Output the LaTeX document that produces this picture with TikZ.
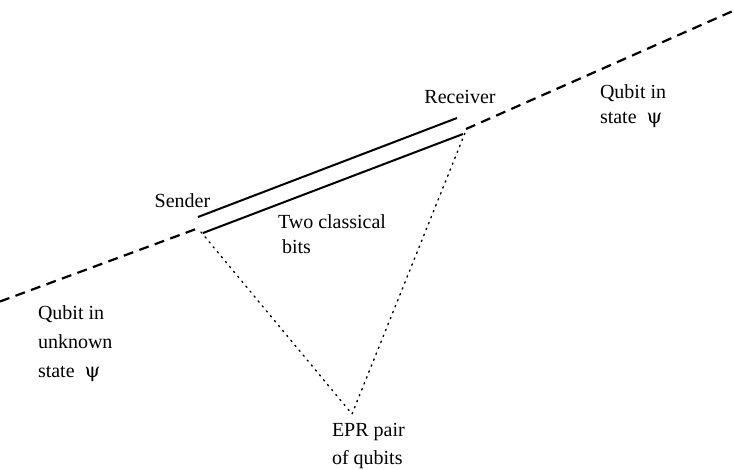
\documentclass[tikz,border=0pt]{standalone}
\usepackage{fontspec}
\setmainfont{Liberation Serif}
\newfontfamily\psifont{DejaVu Serif}
\newcommand{\mypsi}{{\psifont\fontsize{20}{20}\selectfont\symbol{"03C8}}}
\begin{document}
\begin{tikzpicture}[x=1pt,y=-1pt,
  lbl/.style={inner sep=0pt,outer sep=0pt,font=\fontsize{20}{25}\selectfont,align=left},
  qline/.style={line width=2.2pt,dash pattern=on 10pt off 6.5pt},
  cline/.style={line width=2pt},
  eprline/.style={line width=1.4pt,dash pattern=on 1.4pt off 5pt,line cap=round}]
\useasboundingbox (0,0) rectangle (734,469);
% points
\coordinate (L0) at (0,301.5);
\coordinate (L1) at (196,229);
\coordinate (R0) at (466,129);
\coordinate (R1) at (734,10.5);
\coordinate (S) at (201,232);
\coordinate (R) at (465,133);
\coordinate (E) at (352,414);
\coordinate (s1) at (198,217);
\coordinate (r1) at (457,118);
\coordinate (s2) at (203,233);
\coordinate (r2) at (463,134);
% qubit path
\draw[qline] (L0) -- (L1);
\draw[qline] (R0) -- (R1);
% classical channel
\draw[cline] (s1) -- (r1);
\draw[cline] (s2) -- (r2);
% EPR pair
\draw[eprline] (S) -- (E) -- (R);
% labels
\node[lbl,anchor=base] (sender) at (182.5,207) {Sender};
\node[lbl,anchor=base] (receiver) at (460,103) {Receiver};
\node[lbl,anchor=north west] (qout) at (600,84.3) {Qubit in\\state \ \mypsi};
\node[lbl,anchor=north west,font=\fontsize{20}{29}\selectfont] (qin) at (38,305.3) {Qubit in\\unknown\\state \ \mypsi};
\node[lbl,anchor=north west] (bits) at (278,214.3) {Two classical\\\hspace{4pt}bits};
\node[lbl,anchor=north west,font=\fontsize{20}{28}\selectfont] (epr) at (332,423.3) {EPR pair\\of qubits};
\end{tikzpicture}
\end{document}
